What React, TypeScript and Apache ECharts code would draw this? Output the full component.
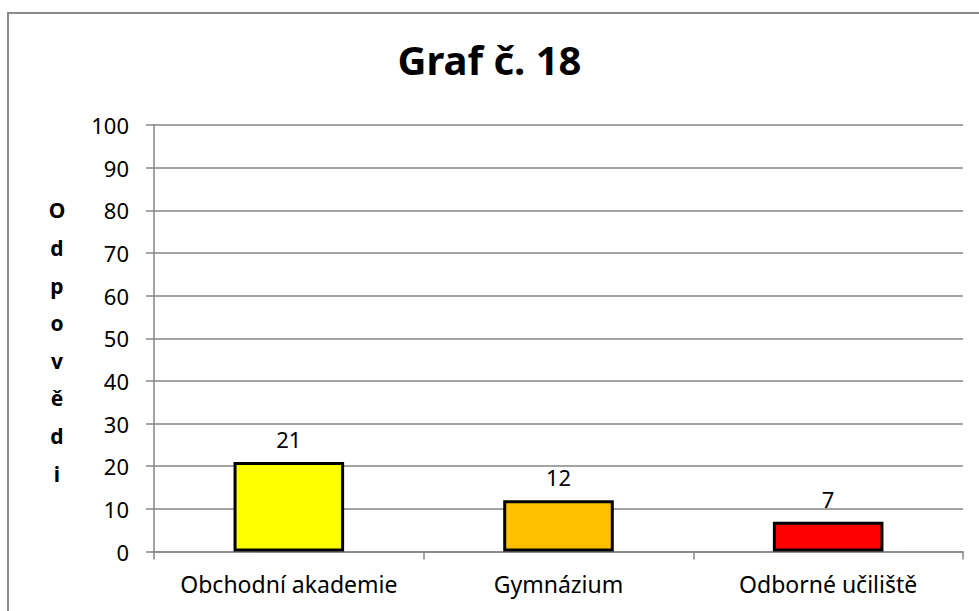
import React, { useEffect, useRef } from "react";
import * as echarts from "echarts";

const title = "Graf č. 18";
const yAxisTitle = ["O", "d", "p", "o", "v", "ě", "d", "i"];
const categories = ["Obchodní akademie", "Gymnázium", "Odborné učiliště"];
const values = [21, 12, 7];
const barColors = ["#FFFF00", "#FFC000", "#FF0000"];
const yMin = 0;
const yMax = 100;
const yStep = 10;

const FONT = "'Noto Sans', 'DejaVu Sans', sans-serif";

export default function App() {
  const ref = useRef<HTMLDivElement>(null);
  useEffect(() => {
    if (!ref.current) return;
    const chart = echarts.init(ref.current, null, { renderer: "svg" });
    chart.setOption({
      animation: false,
      backgroundColor: "#ffffff",
      textStyle: { fontFamily: FONT },
      title: {
        text: title,
        left: "center",
        top: 34,
        textStyle: { fontFamily: FONT, fontSize: 40, fontWeight: "bold", color: "#000" },
      },
      graphic: [
        {
          type: "rect",
          shape: { x: 8, y: 13, width: 1000, height: 700 },
          style: { fill: "none", stroke: "#8a8a8a", lineWidth: 2 },
          silent: true,
        },
        {
          type: "text",
          x: 57,
          y: 342,
          style: {
            text: yAxisTitle.join("\n"),
            fontFamily: FONT,
            fontSize: 21,
            fontWeight: "bold",
            fill: "#000",
            lineHeight: 37.6,
            align: "center",
            verticalAlign: "middle",
          },
        },
      ],
      grid: { left: 154, right: 16, top: 125, bottom: 59.5, containLabel: false },
      xAxis: {
        type: "category",
        data: categories,
        axisLine: { lineStyle: { color: "#868686", width: 1.5 } },
        axisTick: { show: true, length: 8, interval: 0, alignWithLabel: false, lineStyle: { color: "#868686", width: 1.5 } },
        axisLabel: { color: "#000", fontSize: 23, fontFamily: FONT, margin: 21, interval: 0, hideOverlap: false },
      },
      yAxis: {
        type: "value",
        min: yMin,
        max: yMax,
        interval: yStep,
        axisLine: { show: true, lineStyle: { color: "#868686", width: 1.5 } },
        axisTick: { show: true, length: 8, lineStyle: { color: "#868686", width: 1.5 } },
        splitLine: { show: true, lineStyle: { color: "#868686", width: 1.5 } },
        axisLabel: { color: "#000", fontSize: 22, fontFamily: FONT, margin: 25 },
      },
      series: [
        {
          type: "bar",
          barWidth: "41%",
          data: values.map((v, i) => ({
            value: v,
            itemStyle: { color: barColors[i], borderColor: "#000", borderWidth: 3 },
          })),
          label: {
            show: true,
            position: "top",
            distance: 12,
            color: "#000",
            fontSize: 22,
            fontFamily: FONT,
          },
        },
      ],
    });
    return () => chart.dispose();
  }, []);
  return (
    <div
      ref={ref}
      style={{ position: "fixed", left: 0, top: 0, width: 979, height: 611, background: "#fff" }}
    />
  );
}
